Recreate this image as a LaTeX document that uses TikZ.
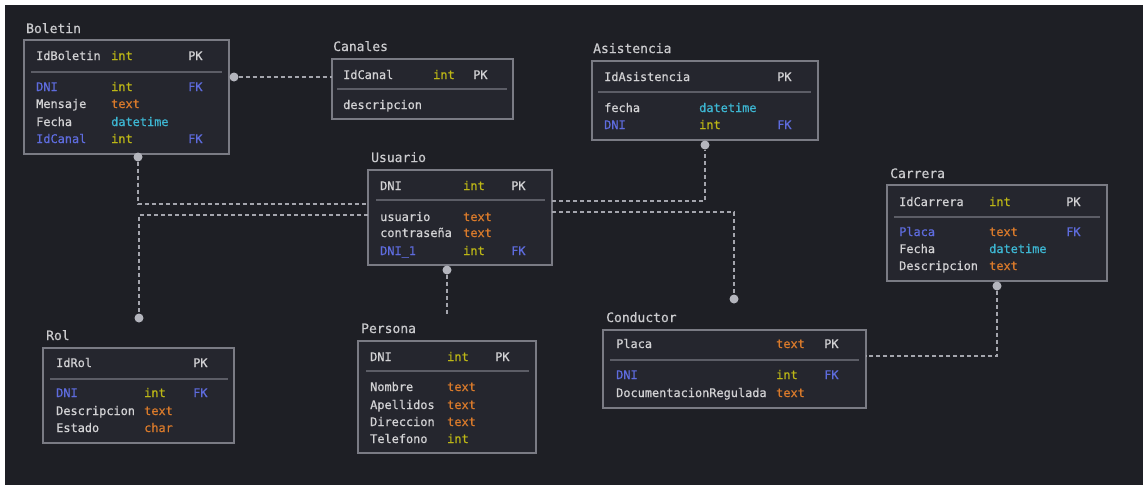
\documentclass[tikz,border=0pt]{standalone}
\usepackage{fontspec}
\newfontfamily\dbmono[FakeBold=0.6]{DejaVu Sans Mono}
\definecolor{pagebg}{HTML}{1E1F25}
\definecolor{boxfill}{HTML}{25262E}
\definecolor{boxline}{HTML}{7A7B84}
\definecolor{sepc}{HTML}{5C5D66}
\definecolor{linkc}{HTML}{A4A5AD}
\definecolor{dotc}{HTML}{B4B5BD}
\definecolor{plainc}{HTML}{D2D2D4}
\definecolor{titlec}{HTML}{CACACD}
\definecolor{intc}{HTML}{BDB716}
\definecolor{textc}{HTML}{D97A2B}
\definecolor{datec}{HTML}{3DB6D2}
\definecolor{fkc}{HTML}{5E6CDE}
\begin{document}
\begin{tikzpicture}[x=1pt,y=-1pt,
  tbl/.style={rectangle,draw=boxline,line width=2pt,fill=boxfill,anchor=north west,
    outer sep=0pt,inner sep=0pt},
  title/.style={anchor=base west,inner sep=0pt,text=titlec,font=\dbmono\fontsize{13}{15}\selectfont},
  cell/.style={anchor=base west,inner sep=0pt,text=plainc,font=\dbmono\fontsize{11.9}{14}\selectfont},
  tint/.style={cell,text=intc},
  ttext/.style={cell,text=textc},
  tdate/.style={cell,text=datec},
  tfk/.style={cell,text=fkc},
  sepline/.style={draw=sepc,line width=1.5pt},
  link/.style={draw=linkc,line width=1.5pt,dash pattern=on 4pt off 3pt},
  dot/.style={circle,fill=dotc,inner sep=0pt,minimum size=9pt}]

% canvas
\useasboundingbox (0,0) rectangle (1147,485);
\fill[white] (0,0) rectangle (1147,485);
\fill[pagebg] (5,5) rectangle (1143,485);

% ---------- Boletin ----------
\node[title] (tBol) at (26,33) {Boletin};
\node[tbl,minimum width=205pt,minimum height=114pt] (boletin) at (24,40) {};
\draw[sepline] (31,72) -- (222,72);
\node[cell] (bol1n) at (36,60) {IdBoletin};
\node[tint] (bol1t) at (111,60) {int};
\node[cell] (bol1k) at (188,60) {PK};
\node[tfk]  (bol2n) at (36,91) {DNI};
\node[tint] (bol2t) at (111,91) {int};
\node[tfk]  (bol2k) at (188,91) {FK};
\node[cell] (bol3n) at (36,108) {Mensaje};
\node[ttext] (bol3t) at (111,108) {text};
\node[cell] (bol4n) at (36,126) {Fecha};
\node[tdate] (bol4t) at (111,126) {datetime};
\node[tfk]  (bol5n) at (36,143) {IdCanal};
\node[tint] (bol5t) at (111,143) {int};
\node[tfk]  (bol5k) at (188,143) {FK};

% ---------- Canales ----------
\node[title] (tCan) at (333,51) {Canales};
\node[tbl,minimum width=181pt,minimum height=60pt] (canales) at (332,59) {};
\draw[sepline] (337,89) -- (507,89);
\node[cell] (can1n) at (343,79) {IdCanal};
\node[tint] (can1t) at (433,79) {int};
\node[cell] (can1k) at (473,79) {PK};
\node[cell] (can2n) at (343,109) {descripcion};

% ---------- Asistencia ----------
\node[title] (tAsi) at (593,53) {Asistencia};
\node[tbl,minimum width=226pt,minimum height=79pt] (asistencia) at (592,61) {};
\draw[sepline] (598,92) -- (811,92);
\node[cell] (asi1n) at (604,81) {IdAsistencia};
\node[cell] (asi1k) at (777,81) {PK};
\node[cell] (asi2n) at (604,112) {fecha};
\node[tdate] (asi2t) at (699,112) {datetime};
\node[tfk]  (asi3n) at (604,129) {DNI};
\node[tint] (asi3t) at (699,129) {int};
\node[tfk]  (asi3k) at (777,129) {FK};

% ---------- Usuario ----------
\node[title] (tUsu) at (371,162) {Usuario};
\node[tbl,minimum width=184pt,minimum height=95pt] (usuario) at (368,170) {};
\draw[sepline] (376,200) -- (545,200);
\node[cell] (usu1n) at (380,190) {DNI};
\node[tint] (usu1t) at (463,190) {int};
\node[cell] (usu1k) at (511,190) {PK};
\node[cell] (usu2n) at (380,221) {usuario};
\node[ttext] (usu2t) at (463,221) {text};
\node[cell] (usu3n) at (380,237) {contraseña};
\node[ttext] (usu3t) at (463,237) {text};
\node[tfk]  (usu4n) at (380,255) {DNI\_1};
\node[tint] (usu4t) at (463,255) {int};
\node[tfk]  (usu4k) at (511,255) {FK};

% ---------- Carrera ----------
\node[title] (tCar) at (890,178) {Carrera};
\node[tbl,minimum width=220pt,minimum height=96pt] (carrera) at (887,185) {};
\draw[sepline] (894,217) -- (1100,217);
\node[cell] (car1n) at (899,206) {IdCarrera};
\node[tint] (car1t) at (989,206) {int};
\node[cell] (car1k) at (1066,206) {PK};
\node[tfk]  (car2n) at (899,236) {Placa};
\node[ttext] (car2t) at (989,236) {text};
\node[tfk]  (car2k) at (1066,236) {FK};
\node[cell] (car3n) at (899,253) {Fecha};
\node[tdate] (car3t) at (989,253) {datetime};
\node[cell] (car4n) at (899,270) {Descripcion};
\node[ttext] (car4t) at (989,270) {text};

% ---------- Rol ----------
\node[title] (tRol) at (46,340) {Rol};
\node[tbl,minimum width=191pt,minimum height=95pt] (rol) at (43,348) {};
\draw[sepline] (50,379) -- (228,379);
\node[cell] (rol1n) at (56,367) {IdRol};
\node[cell] (rol1k) at (193,367) {PK};
\node[tfk]  (rol2n) at (56,397) {DNI};
\node[tint] (rol2t) at (144,397) {int};
\node[tfk]  (rol2k) at (193,397) {FK};
\node[cell] (rol3n) at (56,415) {Descripcion};
\node[ttext] (rol3t) at (144,415) {text};
\node[cell] (rol4n) at (56,432) {Estado};
\node[ttext] (rol4t) at (144,432) {char};

% ---------- Persona ----------
\node[title] (tPer) at (361,333) {Persona};
\node[tbl,minimum width=178pt,minimum height=112pt] (persona) at (358,341) {};
\draw[sepline] (366,371) -- (529,371);
\node[cell] (per1n) at (370,361) {DNI};
\node[tint] (per1t) at (447,361) {int};
\node[cell] (per1k) at (495,361) {PK};
\node[cell] (per2n) at (370,391) {Nombre};
\node[ttext] (per2t) at (447,391) {text};
\node[cell] (per3n) at (370,409) {Apellidos};
\node[ttext] (per3t) at (447,409) {text};
\node[cell] (per4n) at (370,426) {Direccion};
\node[ttext] (per4t) at (447,426) {text};
\node[cell] (per5n) at (370,443) {Telefono};
\node[tint] (per5t) at (447,443) {int};

% ---------- Conductor ----------
\node[title] (tCon) at (606,322) {Conductor};
\node[tbl,minimum width=263pt,minimum height=78pt] (conductor) at (603,330) {};
\draw[sepline] (610,360) -- (859,360);
\node[cell] (con1n) at (616,348) {Placa};
\node[ttext] (con1t) at (776,348) {text};
\node[cell] (con1k) at (824,348) {PK};
\node[tfk]  (con2n) at (616,379) {DNI};
\node[tint] (con2t) at (776,379) {int};
\node[tfk]  (con2k) at (824,379) {FK};
\node[cell] (con3n) at (616,397) {DocumentacionRegulada};
\node[ttext] (con3t) at (776,397) {text};

% ---------- relationship end points ----------
\node[dot] (bolR) at (234,77) {};
\node[dot] (bolB) at (138,157) {};
\node[dot] (asiB) at (705,145) {};
\node[dot] (usuB) at (447,270) {};
\node[dot] (carB) at (997,286) {};
\node[dot] (rolT) at (139,318) {};
\node[dot] (conT) at (734,299) {};
\coordinate (usuEnd) at (447,314);

% ---------- relationships ----------
\draw[link] (bolR) -- (canales.west |- bolR);
\draw[link] (bolB) |- (usuario.west |- 0,204);
\draw[link] (usuario.west |- 0,215) -| (rolT);
\draw[link] (usuario.east |- 0,201) -| (asiB);
\draw[link] (usuario.east |- 0,212) -| (conT);
\draw[link] (usuB) -- (usuEnd);
\draw[link] (carB) |- (conductor.east |- 0,356);
\end{tikzpicture}
\end{document}
